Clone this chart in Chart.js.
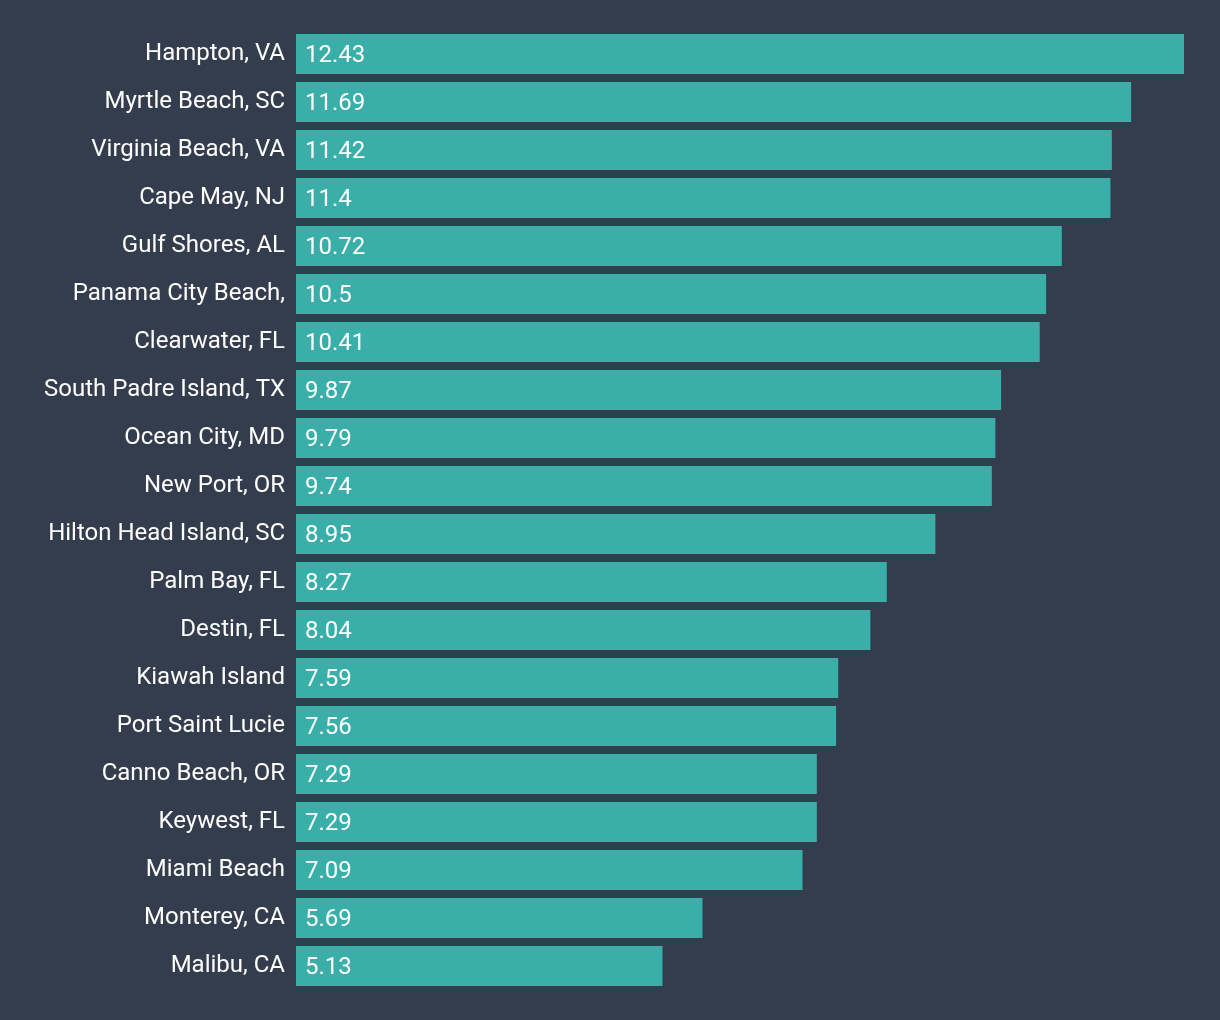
<!DOCTYPE html>
<html>
<head>
<meta charset="utf-8">
<script src="https://cdn.jsdelivr.net/npm/chart.js@4/dist/chart.umd.min.js"></script>
<style>
  html, body { margin: 0; padding: 0; background: #343d4e; }
  #wrap { width: 1220px; height: 1020px; }
</style>
</head>
<body>
<div id="wrap"><canvas id="chart"></canvas></div>
<script>
const cities = [
  'Hampton, VA', 'Myrtle Beach, SC', 'Virginia Beach, VA', 'Cape May, NJ',
  'Gulf Shores, AL', 'Panama City Beach,', 'Clearwater, FL', 'South Padre Island, TX',
  'Ocean City, MD', 'New Port, OR', 'Hilton Head Island, SC', 'Palm Bay, FL',
  'Destin, FL', 'Kiawah Island', 'Port Saint Lucie', 'Canno Beach, OR',
  'Keywest, FL', 'Miami Beach', 'Monterey, CA', 'Malibu, CA'
]
const scores = [
  12.43, 11.69, 11.42, 11.4,
  10.72, 10.5, 10.41, 9.87,
  9.79, 9.74, 8.95, 8.27,
  8.04, 7.59, 7.56, 7.29,
  7.29, 7.09, 5.69, 5.13
]

const font = { family: 'Roboto', size: 24 }

// draws the value at the start of each bar
const barValues = {
  id: 'barValues',
  afterDatasetsDraw(chart) {
    const ctx = chart.ctx
    const meta = chart.getDatasetMeta(0)
    ctx.save()
    ctx.font = `${font.size}px ${font.family}`
    ctx.fillStyle = '#ffffff'
    ctx.textBaseline = 'middle'
    ctx.textAlign = 'left'
    meta.data.forEach((bar, i) => {
      ctx.fillText(String(scores[i]), bar.base + 9, bar.y + 2)
    })
    ctx.restore()
  }
}

new Chart(document.getElementById('chart'), {
  type: 'bar',
  data: {
    labels: cities,
    datasets: [{
      data: scores,
      backgroundColor: '#3aafa9',
      borderWidth: 0,
      barPercentage: 1,
      categoryPercentage: 40 / 48
    }]
  },
  options: {
    indexAxis: 'y',
    responsive: true,
    maintainAspectRatio: false,
    animation: false,
    layout: { padding: { top: 30, bottom: 30, right: 36, left: 0 } },
    plugins: {
      legend: { display: false },
      tooltip: { enabled: false }
    },
    scales: {
      x: {
        display: false,
        min: 0,
        max: Math.max(...scores)
      },
      y: {
        grid: { display: false, drawTicks: false },
        border: { display: false },
        ticks: { color: '#ffffff', font, padding: 11 },
        afterFit(scale) { scale.width = 296 }
      }
    }
  },
  plugins: [barValues]
})
</script>
</body>
</html>
